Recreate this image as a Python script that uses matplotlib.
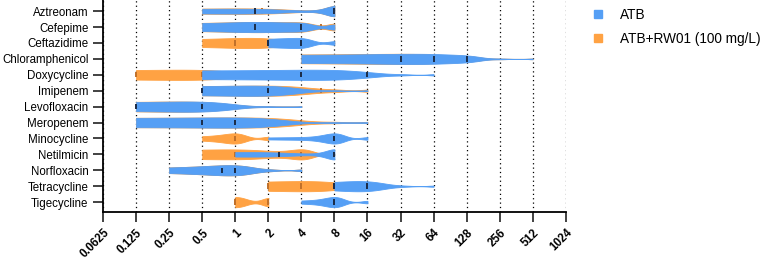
import numpy as np
import matplotlib.pyplot as plt
from matplotlib.lines import Line2D

plt.rcParams['font.family'] = ['Liberation Sans', 'DejaVu Sans']

drugs = ['Aztreonam', 'Cefepime', 'Ceftazidime', 'Chloramphenicol', 'Doxycycline',
         'Imipenem', 'Levofloxacin', 'Meropenem', 'Minocycline', 'Netilmicin',
         'Norfloxacin', 'Tetracycline', 'Tigecycline']

# MIC dilution steps (mg/L)
mic_levels = [0.125, 0.25, 0.5, 1, 2, 4, 8, 16, 32, 64, 128, 256, 512]

# number of isolates at each MIC step, one row per drug
atb = [
    [0, 0, 3, 2, 1, 1, 12, 0, 0, 0, 0, 0, 0],   # Aztreonam
    [0, 0, 2, 3, 4, 6, 4, 0, 0, 0, 0, 0, 0],    # Cefepime
    [0, 0, 0, 0, 4, 5, 2, 0, 0, 0, 0, 0, 0],    # Ceftazidime
    [0, 0, 0, 0, 0, 2, 1, 2, 5, 4, 7, 1, 1],    # Chloramphenicol
    [0, 0, 2, 1, 2, 8, 3, 5, 2, 2, 0, 0, 0],    # Doxycycline
    [0, 0, 5, 2, 6, 1, 1, 1, 0, 0, 0, 0, 0],    # Imipenem
    [5, 2, 6, 2, 1, 1, 0, 0, 0, 0, 0, 0, 0],    # Levofloxacin
    [2, 2, 5, 7, 2, 1, 1, 1, 0, 0, 0, 0, 0],    # Meropenem
    [0, 0, 0, 0, 1, 1, 8, 2, 0, 0, 0, 0, 0],    # Minocycline
    [0, 0, 0, 3, 1, 1, 9, 0, 0, 0, 0, 0, 0],    # Netilmicin
    [0, 2, 3, 10, 2, 2, 0, 0, 0, 0, 0, 0, 0],   # Norfloxacin
    [0, 0, 0, 0, 0, 0, 4, 6, 1, 1, 0, 0, 0],    # Tetracycline
    [0, 0, 0, 0, 0, 2, 8, 2, 0, 0, 0, 0, 0],    # Tigecycline
]
atb_rw01 = [
    [0, 0, 3, 2, 2, 1, 12, 0, 0, 0, 0, 0, 0],   # Aztreonam
    [0, 0, 2, 3, 3, 6, 5, 0, 0, 0, 0, 0, 0],    # Cefepime
    [0, 0, 3, 3, 5, 2, 1, 0, 0, 0, 0, 0, 0],    # Ceftazidime
    [0, 0, 0, 0, 0, 3, 2, 3, 5, 4, 7, 1, 1],    # Chloramphenicol
    [5, 2, 3, 2, 2, 1, 0, 0, 0, 0, 0, 0, 0],    # Doxycycline
    [0, 0, 3, 2, 4, 2, 2, 2, 0, 0, 0, 0, 0],    # Imipenem
    [6, 4, 4, 2, 1, 1, 0, 0, 0, 0, 0, 0, 0],    # Levofloxacin
    [2, 2, 4, 4, 3, 2, 2, 2, 0, 0, 0, 0, 0],    # Meropenem
    [0, 0, 2, 6, 2, 0, 0, 0, 0, 0, 0, 0, 0],    # Minocycline
    [0, 0, 2, 3, 0, 5, 1, 0, 0, 0, 0, 0, 0],    # Netilmicin
    [0, 2, 3, 10, 2, 2, 0, 0, 0, 0, 0, 0, 0],   # Norfloxacin
    [0, 0, 0, 0, 4, 3, 3, 2, 1, 0, 0, 0, 0],    # Tetracycline
    [0, 0, 0, 5, 4, 0, 0, 0, 0, 0, 0, 0, 0],    # Tigecycline
]

xticks = [0.0625, 0.125, 0.25, 0.5, 1, 2, 4, 8, 16, 32, 64, 128, 256, 512, 1024]
xtick_labels = ['0.0625', '0.125', '0.25', '0.5', '1', '2', '4', '8', '16', '32',
                '64', '128', '256', '512', '1024']

blue = '#559ff5'
orange = '#ffa243'


def violin(counts):
    vals = np.repeat(np.array(mic_levels, dtype=float), counts)
    bw = 0.75 * vals.std(ddof=1) * len(vals) ** (-0.2)
    grid = np.geomspace(vals.min(), vals.max(), 400)
    dens = np.exp(-0.5 * ((grid[:, None] - vals[None, :]) / bw) ** 2).sum(axis=1)
    q = np.percentile(vals, [25, 50, 75])
    return grid, dens / dens.max(), q


fig = plt.figure(figsize=(7.75, 2.6), dpi=100)
ax = fig.add_axes([0.133, 0.186, 0.597, 0.814])
ax.set_xscale('log', base=2)

half = 0.32
for i in range(len(drugs)):
    for counts, col, mcol, z in [(atb_rw01[i], orange, '#c0702a', 2), (atb[i], blue, '#1b2d4a', 4)]:
        g, d, q = violin(counts)
        ax.fill_between(g, i - half * d, i + half * d, color=col, lw=0.6, zorder=z)
        ax.vlines(q, i - 0.17, i + 0.17, color=mcol, lw=1.4, zorder=z + 1)

ax.set_xlim(0.0625, 1024)
ax.set_ylim(12.6, -0.7)
ax.set_yticks(range(len(drugs)), drugs, fontsize=8.3)
ax.set_xticks(xticks, xtick_labels, fontsize=8.3, fontweight='bold',
              rotation=45, ha='right', rotation_mode='anchor')
ax.minorticks_off()
ax.tick_params(axis='both', length=7, width=1.3, color='#333333')
ax.tick_params(axis='x', pad=4)
ax.grid(axis='x', color='black', linestyle=(0, (1, 2.5)), lw=0.9, zorder=0)
ax.set_axisbelow(True)
for s in ['top', 'right']:
    ax.spines[s].set_visible(False)
for s in ['left', 'bottom']:
    ax.spines[s].set_linewidth(1.3)

handles = [Line2D([], [], marker='s', ls='none', color=blue, markersize=6),
           Line2D([], [], marker='s', ls='none', color=orange, markersize=6)]
fig.legend(handles, ['ATB', 'ATB+RW01 (100 mg/L)'], loc='upper left',
           bbox_to_anchor=(0.745, 1.018), frameon=False, fontsize=9.8,
           handletextpad=1.0, handlelength=1.2, labelspacing=0.75)

fig.savefig('out.png', dpi=100)
